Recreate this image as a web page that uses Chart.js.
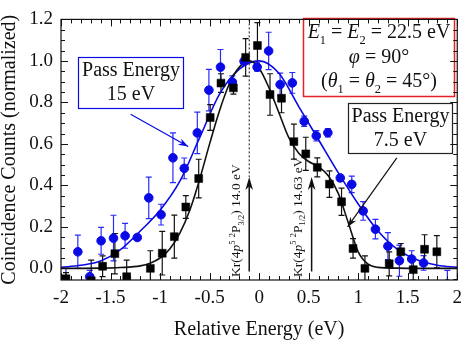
<!DOCTYPE html>
<html>
<head>
<meta charset="utf-8">
<script src="https://cdn.jsdelivr.net/npm/chart.js@4.4.0/dist/chart.umd.min.js"></script>
<style>
  html, body { margin: 0; padding: 0; background: #fff; }
  #wrap { width: 469px; height: 340px; }
</style>
</head>
<body>
<div id="wrap"><canvas id="chart" width="469" height="340"></canvas></div>
<script>
// ---- data ----
const blueX   = [-1.95, -1.83, -1.71, -1.595, -1.47, -1.353, -1.23, -1.114, -0.99, -0.87, -0.756, -0.624, -0.507, -0.39, -0.27, -0.152, -0.02, 0.096, 0.212, 0.335, 0.455, 0.577, 0.694, 0.819, 0.935, 1.05, 1.174, 1.30, 1.416, 1.54, 1.66, 1.9];
const blueY   = [-0.07, 0.08, -0.04, 0.133, 0.146, 0.157, 0.149, 0.34, 0.259, 0.533, 0.482, 0.653, 0.859, 0.97, 0.898, 0.998, 0.97, 1.048, 0.886, 0.894, 0.709, 0.639, 0.654, 0.436, 0.405, 0.277, 0.189, 0.107, 0.037, 0.045, 0.026, -0.075];
const blueErr = [0.07, 0.08, 0.03, 0.065, 0.11, 0.06, 0.01, 0.1, 0.05, 0.12, 0.05, 0.1, 0.1, 0.085, 0.03, 0.015, 0.02, 0.09, 0.055, 0.05, 0.025, 0.025, 0.02, 0.015, 0.04, 0.045, 0.047, 0.065, 0.075, 0.04, 0.035, 0.065];

const blackX   = [-1.95, -1.695, -1.58, -1.456, -1.337, -1.098, -0.978, -0.856, -0.74, -0.61, -0.494, -0.385, -0.26, -0.136, -0.017, 0.11, 0.226, 0.351, 0.471, 0.587, 0.71, 0.832, 0.948, 1.068, 1.313, 1.43, 1.556, 1.67, 1.794];
const blackY   = [-0.05, -0.06, 0.01, 0.071, -0.04, 0.0, 0.073, 0.153, 0.296, 0.433, 0.727, 0.893, 0.87, 1.017, 1.074, 0.838, 0.82, 0.611, 0.552, 0.487, 0.406, 0.321, 0.096, 0.0, 0.022, 0.08, -0.006, 0.092, 0.08];
const blackErr = [0.03, 0.1, 0.05, 0.097, 0.08, 0.085, 0.105, 0.104, 0.055, 0.093, 0.062, 0.045, 0.03, 0.09, 0.11, 0.1, 0.07, 0.084, 0.08, 0.046, 0.064, 0.066, 0.047, 0.06, 0.058, 0.04, 0.05, 0.07, 0.078];

// fitted curves, sampled from the figure
const blueFitX = [-2, -1.8, -1.6, -1.4, -1.2, -1.0, -0.8, -0.6, -0.4, -0.2, 0, 0.2, 0.4, 0.6, 0.8, 1.0, 1.2, 1.4, 1.6, 1.8, 2.0];
const blueFitY = [0.005, 0.015, 0.035, 0.09, 0.18, 0.28, 0.42, 0.63, 0.84, 0.96, 1.0, 0.94, 0.78, 0.62, 0.46, 0.31, 0.18, 0.09, 0.04, 0.015, 0.005];

const blackFitX = [-2, -1.6, -1.4, -1.2, -1.1, -1.0, -0.9, -0.8, -0.7, -0.6, -0.5, -0.4, -0.3, -0.2, -0.1, 0.0, 0.1, 0.2, 0.3, 0.4, 0.5, 0.6, 0.7, 0.8, 0.9, 1.0, 1.1, 1.2, 1.4, 1.6, 2.0];
const blackFitY = [0, 0.001, 0.004, 0.012, 0.025, 0.05, 0.095, 0.17, 0.28, 0.43, 0.6, 0.76, 0.89, 0.97, 1.0, 0.965, 0.87, 0.75, 0.63, 0.555, 0.515, 0.49, 0.445, 0.36, 0.22, 0.08, 0.02, 0.005, 0.001, 0, 0];

// peak positions (Kr 4p5 2P3/2 and 2P1/2)
const peakX = [-0.1, 0.53];

// axis ticks
const xTicks = [-2, -1.5, -1, -0.5, 0, 0.5, 1, 1.5, 2];
const xTickLabels = ['-2', '-1.5', '-1', '-0.5', '0', '0.5', '1', '1.5', '2'];
const yTicks = [0, 0.2, 0.4, 0.6, 0.8, 1.0, 1.2];
const yTickLabels = ['0.0', '0.2', '0.4', '0.6', '0.8', '1.0', '1.2'];

const BLUE = '#0a0ae6';
const SERIF = "'Liberation Serif', 'Times New Roman', serif";

const zip = (xs, ys, es) => xs.map((x, i) => ({ x: x, y: ys[i], e: es ? es[i] : 0 }));

// draws a run of text pieces: [text, kind] kind: n normal, i italic, b subscript, p superscript
function drawRuns(ctx, runs, x, y, size, align) {
  const fontOf = k => {
    const s = (k === 'b' || k === 'p') ? size * 0.62 : size;
    return (k === 'i' ? 'italic ' : '') + s + 'px ' + SERIF;
  };
  let w = 0;
  runs.forEach(r => { ctx.font = fontOf(r[1]); w += ctx.measureText(r[0]).width; });
  let cx = align === 'center' ? x - w / 2 : x;
  ctx.textAlign = 'left';
  ctx.textBaseline = 'alphabetic';
  runs.forEach(r => {
    ctx.font = fontOf(r[1]);
    const dy = r[1] === 'b' ? size * 0.28 : (r[1] === 'p' ? -size * 0.4 : 0);
    ctx.fillText(r[0], cx, y + dy);
    cx += ctx.measureText(r[0]).width;
  });
}

function arrowHead(ctx, tx, ty, angle, len, half) {
  ctx.save();
  ctx.translate(tx, ty);
  ctx.rotate(angle);
  ctx.beginPath();
  ctx.moveTo(0, 0);
  ctx.lineTo(-len, -half);
  ctx.lineTo(-len * 0.7, 0);
  ctx.lineTo(-len, half);
  ctx.closePath();
  ctx.fill();
  ctx.restore();
}

const errorBars = {
  id: 'errorBars',
  beforeDatasetsDraw(chart) {
    const { ctx, chartArea: a, scales: { x, y } } = chart;
    ctx.save();
    ctx.beginPath();
    ctx.rect(a.left, a.top, a.right - a.left, a.bottom - a.top);
    ctx.clip();
    [[2, '#2a2aff'], [3, '#111']].forEach(([idx, col]) => {
      ctx.strokeStyle = col;
      ctx.lineWidth = 1.2;
      chart.data.datasets[idx].data.forEach(p => {
        if (!p.e) return;
        const px = x.getPixelForValue(p.x);
        const y1 = y.getPixelForValue(p.y - p.e);
        const y2 = y.getPixelForValue(p.y + p.e);
        ctx.beginPath();
        ctx.moveTo(px, y1); ctx.lineTo(px, y2);
        ctx.moveTo(px - 3, y1); ctx.lineTo(px + 3, y1);
        ctx.moveTo(px - 3, y2); ctx.lineTo(px + 3, y2);
        ctx.stroke();
      });
    });
    ctx.restore();
  }
};

const annotations = {
  id: 'annotations',
  afterDatasetsDraw(chart) {
    const { ctx, scales: { x, y } } = chart;
    const X = v => x.getPixelForValue(v);
    const Y = v => y.getPixelForValue(v);
    ctx.save();

    // peak markers: dotted line + arrows
    const tipY = Y(0.44), baseY = Y(-0.015);
    ctx.strokeStyle = '#111';
    ctx.fillStyle = '#111';
    ctx.lineWidth = 1;
    ctx.setLineDash([2, 2]);
    ctx.beginPath();
    ctx.moveTo(X(peakX[0]), Y(1.2));
    ctx.lineTo(X(peakX[0]), tipY);
    ctx.stroke();
    ctx.setLineDash([]);
    ctx.lineWidth = 1.5;
    peakX.forEach(p => {
      ctx.beginPath();
      ctx.moveTo(X(p), baseY);
      ctx.lineTo(X(p), tipY + 8);
      ctx.stroke();
      arrowHead(ctx, X(p), tipY, -Math.PI / 2, 13, 3.8);
    });

    // rotated peak labels
    const labels = [
      [X(peakX[0]) - 9, [['Kr(4', 'n'], ['p', 'i'], ['5', 'p'], [' ', 'n'], ['2', 'p'], ['P', 'n'], ['3/2', 'b'], [') 14.0 eV', 'n']]],
      [X(peakX[1]) - 10, [['Kr(4', 'n'], ['p', 'i'], ['5', 'p'], [' ', 'n'], ['2', 'p'], ['P', 'n'], ['1/2', 'b'], [') 14.63 eV', 'n']]]
    ];
    labels.forEach(([bx, runs]) => {
      ctx.save();
      ctx.translate(bx, 277);
      ctx.rotate(-Math.PI / 2);
      drawRuns(ctx, runs, 0, 0, 13.5, 'left');
      ctx.restore();
    });

    // Pass Energy 15 eV box (blue)
    ctx.fillStyle = '#fff';
    ctx.fillRect(78, 57, 105, 51);
    ctx.strokeStyle = BLUE;
    ctx.lineWidth = 1.2;
    ctx.strokeRect(78.5, 57.5, 105, 51);
    ctx.fillStyle = '#111';
    drawRuns(ctx, [['Pass Energy', 'n']], 131, 76, 20, 'center');
    drawRuns(ctx, [['15 eV', 'n']], 131, 100, 20, 'center');
    ctx.strokeStyle = BLUE;
    ctx.fillStyle = BLUE;
    ctx.lineWidth = 1.2;
    const b0 = [X(-1.297), Y(0.743)], b1 = [X(-0.716), Y(0.587)];
    ctx.beginPath(); ctx.moveTo(b0[0], b0[1]); ctx.lineTo(b1[0], b1[1]); ctx.stroke();
    arrowHead(ctx, b1[0], b1[1], Math.atan2(b1[1] - b0[1], b1[0] - b0[0]), 10, 3.5);

    // Pass Energy 7.5 eV box (black)
    ctx.fillStyle = '#fff';
    ctx.fillRect(348, 103, 105, 50);
    ctx.strokeStyle = '#222';
    ctx.strokeRect(348.5, 103.5, 104, 50);
    ctx.fillStyle = '#111';
    drawRuns(ctx, [['Pass Energy', 'n']], 400.5, 122, 20, 'center');
    drawRuns(ctx, [['7.5 eV', 'n']], 400.5, 146, 20, 'center');
    ctx.strokeStyle = '#111';
    const k0 = [X(1.39), Y(0.533)], k1 = [X(0.893), Y(0.2)];
    ctx.beginPath(); ctx.moveTo(k0[0], k0[1]); ctx.lineTo(k1[0], k1[1]); ctx.stroke();
    arrowHead(ctx, k1[0], k1[1], Math.atan2(k1[1] - k0[1], k1[0] - k0[0]), 10, 3.5);

    // conditions box (red)
    ctx.fillStyle = '#fff';
    ctx.fillRect(303, 18, 152, 79);
    ctx.strokeStyle = '#e8202a';
    ctx.lineWidth = 1.5;
    ctx.strokeRect(303.5, 18.5, 151, 78);
    ctx.fillStyle = '#111';
    drawRuns(ctx, [['E', 'i'], ['1', 'b'], [' = ', 'n'], ['E', 'i'], ['2', 'b'], [' = 22.5 eV', 'n']], 379, 38, 20, 'center');
    drawRuns(ctx, [['\u03C6', 'i'], [' = 90\u00B0', 'n']], 379, 63, 20, 'center');
    drawRuns(ctx, [['(', 'n'], ['\u03B8', 'i'], ['1', 'b'], [' = ', 'n'], ['\u03B8', 'i'], ['2', 'b'], [' = 45\u00B0)', 'n']], 379, 87, 20, 'center');

    ctx.restore();
  }
};

const frameTicks = {
  id: 'frameTicks',
  afterDraw(chart) {
    const { ctx, chartArea: a, scales: { x, y } } = chart;
    ctx.save();
    ctx.strokeStyle = '#111';
    ctx.lineWidth = 1.2;
    ctx.strokeRect(a.left, a.top, a.right - a.left, a.bottom - a.top);
    ctx.lineWidth = 1;
    ctx.beginPath();
    for (let i = -20; i <= 20; i++) {
      const v = i / 10;
      const len = (i % 5 === 0) ? 7 : 4;
      const px = Math.round(x.getPixelForValue(v)) + 0.5;
      ctx.moveTo(px, a.bottom); ctx.lineTo(px, a.bottom - len);
      ctx.moveTo(px, a.top); ctx.lineTo(px, a.top + len);
    }
    for (let i = -1; i <= 24; i++) {
      const v = i * 0.05;
      const len = (i % 4 === 0) ? 7 : 4;
      const py = Math.round(y.getPixelForValue(v)) + 0.5;
      if (py > a.bottom) continue;
      ctx.moveTo(a.left, py); ctx.lineTo(a.left + len, py);
      ctx.moveTo(a.right, py); ctx.lineTo(a.right - len, py);
    }
    ctx.stroke();
    ctx.restore();
  }
};

new Chart(document.getElementById('chart'), {
  type: 'scatter',
  data: {
    datasets: [
      {
        label: 'fit 15 eV',
        data: zip(blueFitX, blueFitY),
        showLine: true, pointRadius: 0,
        borderColor: BLUE, borderWidth: 1.6,
        cubicInterpolationMode: 'monotone',
        clip: 0, order: 3
      },
      {
        label: 'fit 7.5 eV',
        data: zip(blackFitX, blackFitY),
        showLine: true, pointRadius: 0,
        borderColor: '#111', borderWidth: 1.6,
        cubicInterpolationMode: 'monotone',
        clip: 0, order: 2
      },
      {
        label: 'Pass Energy 15 eV',
        data: zip(blueX, blueY, blueErr),
        pointStyle: 'circle', pointRadius: 4.3,
        backgroundColor: BLUE, borderColor: BLUE, borderWidth: 1,
        clip: 0, order: 1
      },
      {
        label: 'Pass Energy 7.5 eV',
        data: zip(blackX, blackY, blackErr),
        pointStyle: 'rect', pointRadius: 5.6,
        backgroundColor: '#000', borderColor: '#000', borderWidth: 0.5,
        clip: 0, order: 0
      }
    ]
  },
  options: {
    responsive: false,
    animation: false,
    layout: { padding: { top: 10, right: 6, left: 0, bottom: 0 } },
    plugins: { legend: { display: false }, tooltip: { enabled: false } },
    scales: {
      x: {
        type: 'linear', min: -2, max: 2,
        afterBuildTicks: s => { s.ticks = xTicks.map(v => ({ value: v })); },
        afterFit: s => { s.height = 60; },
        grid: { display: false, drawTicks: false },
        border: { display: false },
        ticks: {
          autoSkip: false, maxRotation: 0, padding: 7,
          color: '#111', font: { family: SERIF, size: 19 },
          callback: (v, i) => xTickLabels[i]
        },
        title: {
          display: true, text: 'Relative Energy (eV)', color: '#111',
          font: { family: SERIF, size: 20, lineHeight: 1 }, padding: 0
        }
      },
      y: {
        type: 'linear', min: -0.056, max: 1.2,
        afterBuildTicks: s => { s.ticks = yTicks.map(v => ({ value: v })); },
        afterFit: s => { s.width = 61; },
        grid: { display: false, drawTicks: false },
        border: { display: false },
        ticks: {
          autoSkip: false, padding: 8,
          color: '#111', font: { family: SERIF, size: 19 },
          callback: (v, i) => yTickLabels[i]
        },
        title: {
          display: true, text: 'Coincidence Counts (normalized)', color: '#111',
          font: { family: SERIF, size: 20, lineHeight: 1 }, padding: 0
        }
      }
    }
  },
  plugins: [errorBars, annotations, frameTicks]
});
</script>
</body>
</html>
